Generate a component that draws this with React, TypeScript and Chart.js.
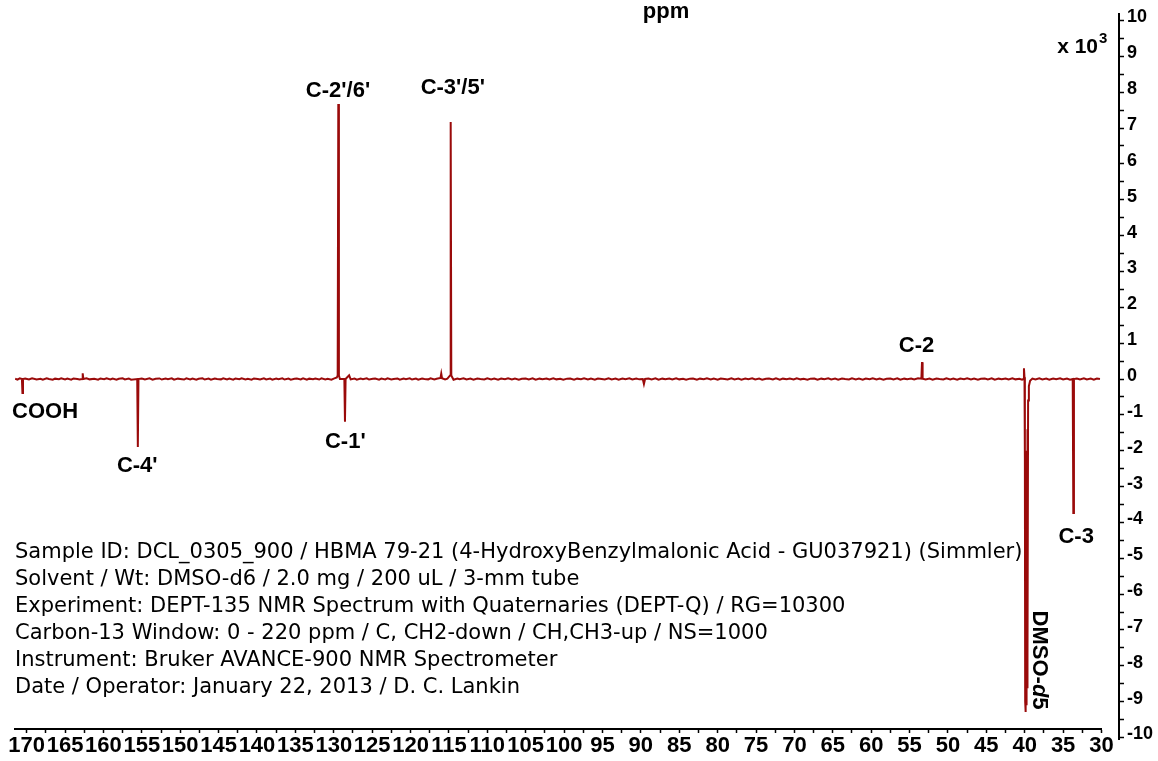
import React, { useEffect, useRef } from "react";
import { Chart, registerables } from "chart.js";

Chart.register(...registerables);

// ---------- data (ppm, intensity x 10^3) ----------
const spectrumPoints: [number, number][] = [
  [171.5, 0.01], [171.2, -0.02], [170.9, 0.02], [170.62, 0.0], [170.55, -0.39], [170.48, 0.0],
  [170.2, 0.015], [169.7, -0.01], [169.3, 0.02], [168.7, -0.015], [168.2, 0.005], [167.9, -0.02],
  [167.4, 0.02], [167.1, 0.0], [166.6, -0.02], [166.3, 0.01], [165.8, -0.005], [165.5, 0.02],
  [165.0, -0.015], [164.7, 0.01], [164.2, -0.02], [163.9, 0.015], [163.4, 0.0], [163.1, -0.015],
  [162.78, 0.0], [162.7, 0.16], [162.62, 0.0], [162.2, 0.02], [161.8, -0.01], [161.2, 0.005],
  [160.7, -0.02], [160.4, 0.015], [159.9, -0.005], [159.6, 0.02], [159.1, -0.015], [158.8, 0.01],
  [158.3, -0.02], [158.0, 0.005], [157.5, 0.02], [157.2, -0.01], [156.7, 0.015], [156.4, -0.02],
  [155.6, 0.0], [155.52, -1.9], [155.44, 0.0], [155.0, 0.015], [154.6, -0.01], [154.0, 0.02],
  [153.6, -0.02], [153.2, 0.005], [152.7, 0.015], [152.4, -0.015], [151.9, 0.01], [151.6, -0.005],
  [151.1, 0.02], [150.8, -0.02], [150.3, 0.01], [150.0, 0.0], [149.5, -0.015], [149.2, 0.02],
  [148.7, -0.01], [148.4, 0.015], [147.9, -0.02], [147.6, 0.005], [147.1, 0.02], [146.8, -0.015],
  [146.3, 0.01], [146.0, -0.02], [145.5, 0.015], [145.2, 0.0], [144.7, -0.01], [144.4, 0.02],
  [143.9, -0.015], [143.6, 0.01], [143.1, -0.02], [142.8, 0.015], [142.3, -0.005], [142.0, 0.02],
  [141.5, -0.01], [141.2, 0.005], [140.7, -0.02], [140.4, 0.015], [139.9, 0.0], [139.6, -0.015],
  [139.1, 0.02], [138.8, -0.01], [138.3, 0.01], [138.0, -0.02], [137.5, 0.015], [137.2, -0.005],
  [136.7, 0.02], [136.4, -0.015], [135.9, 0.01], [135.6, -0.02], [135.1, 0.005], [134.8, 0.015],
  [134.3, -0.01], [134.0, 0.02], [133.5, -0.02], [133.2, 0.01], [132.7, -0.005], [132.4, 0.015],
  [131.9, -0.015], [131.6, 0.02], [131.1, -0.01], [130.8, 0.005], [130.3, -0.02], [130.0, 0.01],
  [129.6, 0.04], [129.49, 0.1], [129.41, 7.67], [129.33, 0.1], [129.2, 0.0], [128.62, 0.0],
  [128.54, -1.19], [128.46, 0.0], [128.0, 0.1], [127.8, -0.01], [127.3, 0.015], [127.0, -0.02],
  [126.5, 0.01], [126.2, -0.005], [125.7, 0.02], [125.4, -0.015], [124.9, 0.005], [124.6, 0.015],
  [124.1, -0.02], [123.8, 0.01], [123.3, -0.01], [123.0, 0.02], [122.5, -0.015], [122.2, 0.0],
  [121.7, 0.015], [121.4, -0.02], [120.9, 0.01], [120.6, -0.005], [120.1, 0.02], [119.8, -0.015],
  [119.3, 0.01], [119.0, -0.02], [118.5, 0.015], [118.2, 0.0], [117.7, -0.01], [117.4, 0.02],
  [116.9, -0.015], [116.6, 0.005], [116.1, 0.03], [116.0, 0.15], [115.9, 0.02], [115.5, -0.01],
  [115.2, 0.01], [114.85, 0.1], [114.77, 7.17], [114.69, 0.1], [114.4, -0.02], [113.9, 0.015],
  [113.6, -0.005], [113.1, 0.02], [112.7, -0.015], [112.2, 0.01], [111.8, -0.02], [111.3, 0.015],
  [110.9, 0.0], [110.4, -0.015], [110.0, 0.02], [109.5, -0.01], [109.1, 0.01], [108.6, -0.02],
  [108.2, 0.015], [107.7, -0.005], [107.3, 0.02], [106.8, -0.015], [106.4, 0.01], [105.9, -0.02],
  [105.5, 0.005], [105.0, 0.015], [104.6, -0.01], [104.1, 0.02], [103.7, -0.02], [103.2, 0.01],
  [102.8, -0.005], [102.3, 0.015], [101.9, -0.015], [101.4, 0.02], [101.0, -0.01], [100.5, 0.005],
  [100.1, -0.02], [99.6, 0.01], [99.2, 0.015], [98.7, -0.02], [98.3, 0.01], [97.8, -0.005],
  [97.4, 0.02], [96.9, -0.015], [96.5, 0.01], [96.0, -0.02], [95.6, 0.015], [95.1, 0.0],
  [94.7, -0.015], [94.2, 0.02], [93.8, -0.01], [93.3, 0.01], [92.9, -0.02], [92.4, 0.015],
  [92.0, -0.005], [91.5, 0.02], [91.1, -0.015], [90.6, 0.01], [90.2, -0.01], [89.75, 0.0],
  [89.6, -0.14], [89.45, 0.0], [89.0, 0.015], [88.6, -0.01], [88.1, 0.02], [87.7, -0.02],
  [87.2, 0.01], [86.8, -0.005], [86.3, 0.015], [85.9, -0.015], [85.4, 0.02], [85.0, -0.01],
  [84.5, 0.005], [84.1, -0.02], [83.6, 0.01], [83.2, 0.015], [82.7, -0.02], [82.3, 0.01],
  [81.8, -0.005], [81.4, 0.02], [80.9, -0.015], [80.5, 0.01], [80.0, -0.02], [79.6, 0.015],
  [79.1, 0.0], [78.7, -0.015], [78.2, 0.02], [77.8, -0.01], [77.3, 0.01], [76.9, -0.02],
  [76.4, 0.015], [76.0, -0.005], [75.5, 0.02], [75.1, -0.015], [74.6, 0.01], [74.2, -0.02],
  [73.7, 0.005], [73.3, 0.015], [72.8, -0.01], [72.4, 0.02], [71.9, -0.02], [71.5, 0.01],
  [71.0, -0.005], [70.6, 0.015], [70.1, -0.015], [69.7, 0.02], [69.2, -0.01], [68.8, 0.005],
  [68.3, -0.02], [67.9, 0.01], [67.4, 0.015], [67.0, -0.02], [66.5, 0.01], [66.1, -0.005],
  [65.6, 0.02], [65.2, -0.015], [64.7, 0.01], [64.3, -0.02], [63.8, 0.015], [63.4, 0.0],
  [62.9, -0.015], [62.5, 0.02], [62.0, -0.01], [61.6, 0.01], [61.1, -0.02], [60.7, 0.015],
  [60.2, -0.005], [59.8, 0.02], [59.3, -0.015], [58.9, 0.01], [58.4, -0.02], [58.0, 0.005],
  [57.5, 0.015], [57.1, -0.01], [56.6, 0.02], [56.2, -0.02], [55.7, 0.01], [55.3, -0.005],
  [54.8, 0.015], [54.4, -0.015], [53.9, 0.02], [53.46, 0.01], [53.38, 0.47], [53.3, 0.01],
  [52.9, -0.015], [52.4, 0.01], [52.0, -0.02], [51.5, 0.015], [51.1, 0.0], [50.6, -0.015],
  [50.2, 0.02], [49.7, -0.01], [49.3, 0.01], [48.8, -0.02], [48.4, 0.015], [47.9, -0.005],
  [47.5, 0.02], [47.0, -0.015], [46.6, 0.01], [46.1, -0.02], [45.7, 0.005], [45.2, 0.015],
  [44.8, -0.01], [44.3, 0.02], [43.9, -0.02], [43.4, 0.01], [43.0, -0.005], [42.5, 0.015],
  [42.1, -0.015], [41.6, 0.02], [41.2, -0.01], [40.7, 0.005], [40.35, -0.02], [40.18, 0.0],
  [40.1, 0.3], [40.03, 0.05], [39.98, -2.2], [39.94, -9.0], [39.9, -3.0], [39.86, -9.29],
  [39.82, -2.6], [39.78, -9.1], [39.74, -2.0], [39.7, -8.6], [39.66, -1.4], [39.62, -7.9],
  [39.56, -0.6], [39.46, -0.2], [39.3, -0.05], [39.0, 0.01], [38.6, -0.015], [38.1, 0.02],
  [37.7, -0.01], [37.2, 0.01], [36.8, -0.02], [36.3, 0.015], [35.9, -0.005], [35.4, 0.02],
  [35.0, -0.015], [34.5, 0.01], [34.1, -0.02], [33.75, 0.0], [33.67, -3.74], [33.59, 0.0],
  [33.2, 0.015], [32.8, -0.01], [32.3, 0.02], [31.9, -0.015], [31.4, 0.01], [31.0, -0.02],
  [30.6, 0.015], [30.2, 0.0],
];

const xMinPpm = 30;
const xMaxPpm = 171.52;
const xTickStep = 2.5;
const xLabelEvery = 5;
const yMin = -10;
const yMax = 10;
const yTickStep = 0.5;

const peakLabelTexts = ["COOH", "C-4'", "C-2'/6'", "C-1'", "C-3'/5'", "C-2", "C-3"];
const peakLabelPpm = [167.6, 155.6, 129.45, 128.5, 114.5, 54.1, 33.3];
const peakLabelInt = [-0.92, -2.43, 8.03, -1.76, 8.12, 0.92, -4.41];

const solventLabelPpm = 38.1;
const solventLabelInt = -7.84;

const axisTitle = "ppm";
const scaleNote = "x 10";
const scaleNoteExp = "3";

const infoLines = [
  "Sample ID: DCL_0305_900 / HBMA 79-21 (4-HydroxyBenzylmalonic Acid - GU037921) (Simmler)",
  "Solvent / Wt: DMSO-d6 / 2.0 mg / 200 uL / 3-mm tube",
  "Experiment: DEPT-135 NMR Spectrum with Quaternaries (DEPT-Q) / RG=10300",
  "Carbon-13 Window: 0 - 220 ppm / C, CH2-down / CH,CH3-up / NS=1000",
  "Instrument: Bruker AVANCE-900 NMR Spectrometer",
  "Date / Operator: January 22, 2013 / D. C. Lankin",
];

const LINE_COLOR = "#9a0a0a";
const BOLD = "'Liberation Sans', Arial, sans-serif";

const decorPlugin = {
  id: "nmrDecor",
  afterLayout(chart: any) {
    const xs = chart.scales.x;
    const ys = chart.scales.y;
    xs.top -= 8.5;
    xs.bottom -= 8.5;
    ys.left += 17.5;
    ys.right += 17.5;
    ys.top -= 7;
    ys.bottom += 2;
  },
  afterDraw(chart: any) {
    const { ctx } = chart;
    const xs = chart.scales.x;
    const ys = chart.scales.y;
    ctx.save();
    ctx.fillStyle = "#000";

    // peak labels
    ctx.font = `bold 22px ${BOLD}`;
    ctx.textAlign = "center";
    ctx.textBaseline = "middle";
    peakLabelTexts.forEach((t, i) => {
      ctx.fillText(t, xs.getPixelForValue(peakLabelPpm[i]), ys.getPixelForValue(peakLabelInt[i]));
    });

    // solvent label (rotated)
    ctx.save();
    ctx.translate(xs.getPixelForValue(solventLabelPpm), ys.getPixelForValue(solventLabelInt));
    ctx.rotate(Math.PI / 2);
    const fN = `bold 22px ${BOLD}`;
    const fI = `italic bold 22px ${BOLD}`;
    ctx.font = fN;
    const w1 = ctx.measureText("DMSO-").width;
    ctx.font = fI;
    const w2 = ctx.measureText("d").width;
    ctx.font = fN;
    const w3 = ctx.measureText("5").width;
    let cx = -(w1 + w2 + w3) / 2;
    ctx.textAlign = "left";
    ctx.font = fN;
    ctx.fillText("DMSO-", cx, 0);
    cx += w1;
    ctx.font = fI;
    ctx.fillText("d", cx, 0);
    cx += w2;
    ctx.font = fN;
    ctx.fillText("5", cx, 0);
    ctx.restore();

    // axis title at top
    ctx.textBaseline = "alphabetic";
    ctx.textAlign = "center";
    ctx.font = `bold 22px ${BOLD}`;
    ctx.fillText(axisTitle, 666, 18);

    // x 10^3
    ctx.textAlign = "right";
    ctx.font = `bold 21px ${BOLD}`;
    ctx.fillText(scaleNote, 1098, 53);
    ctx.textAlign = "left";
    ctx.font = `bold 15px ${BOLD}`;
    ctx.fillText(scaleNoteExp, 1099, 43);

    // info block
    ctx.font = "21px 'DejaVu Sans', Verdana, sans-serif";
    ctx.textAlign = "left";
    infoLines.forEach((line, i) => {
      ctx.fillText(line, 15, 558 + i * 27);
    });
    ctx.restore();
  },
};

export default function App() {
  const canvasRef = useRef<HTMLCanvasElement | null>(null);

  useEffect(() => {
    document.body.style.margin = "0";
    const canvas = canvasRef.current;
    if (!canvas) return;
    const chart = new Chart(canvas, {
      type: "line",
      data: {
        datasets: [
          {
            data: spectrumPoints.map(([x, y]) => ({ x, y })),
            borderColor: LINE_COLOR,
            borderWidth: 2,
            pointRadius: 0,
            tension: 0,
            fill: false,
          },
        ],
      },
      options: {
        animation: false,
        responsive: true,
        maintainAspectRatio: false,
        devicePixelRatio: 1,
        layout: { padding: { left: 15, top: 20.5, right: 0, bottom: 0 } },
        plugins: {
          legend: { display: false },
          title: { display: false },
          tooltip: { enabled: false },
        },
        scales: {
          x: {
            type: "linear",
            position: "bottom",
            reverse: true,
            min: xMinPpm,
            max: xMaxPpm,
            afterFit: (s: any) => {
              s.height = 23.5;
            },
            ticks: {
              stepSize: xTickStep,
              includeBounds: false,
              autoSkip: false,
              maxRotation: 0,
              minRotation: 0,
              padding: 0,
              color: "#000",
              font: { family: BOLD, weight: "bold", size: 22 },
              callback: (v: any) => {
                const n = Number(v);
                return Math.abs(n / xLabelEvery - Math.round(n / xLabelEvery)) < 1e-6 ? String(Math.round(n)) : "";
              },
            },
            grid: { drawOnChartArea: false, tickLength: 4, tickColor: "#000", tickWidth: 1.5 },
            border: { display: true, color: "#000", width: 2 },
          },
          y: {
            type: "linear",
            position: "right",
            min: yMin,
            max: yMax,
            afterFit: (s: any) => {
              s.width = 56.5;
            },
            ticks: {
              stepSize: yTickStep,
              autoSkip: false,
              padding: 3,
              labelOffset: -3,
              color: "#000",
              font: { family: BOLD, weight: "bold", size: 18 },
              callback: (v: any) => {
                const n = Number(v);
                return Math.abs(n - Math.round(n)) < 1e-6 ? String(Math.round(n)) : "";
              },
            },
            grid: { drawOnChartArea: false, tickLength: 5, tickColor: "#000", tickWidth: 1.5 },
            border: { display: true, color: "#000", width: 2 },
          },
        },
      },
      plugins: [decorPlugin],
    } as any);
    return () => chart.destroy();
  }, []);

  return (
    <div style={{ position: "relative", width: 1158, height: 761 }}>
      <canvas ref={canvasRef} />
    </div>
  );
}
